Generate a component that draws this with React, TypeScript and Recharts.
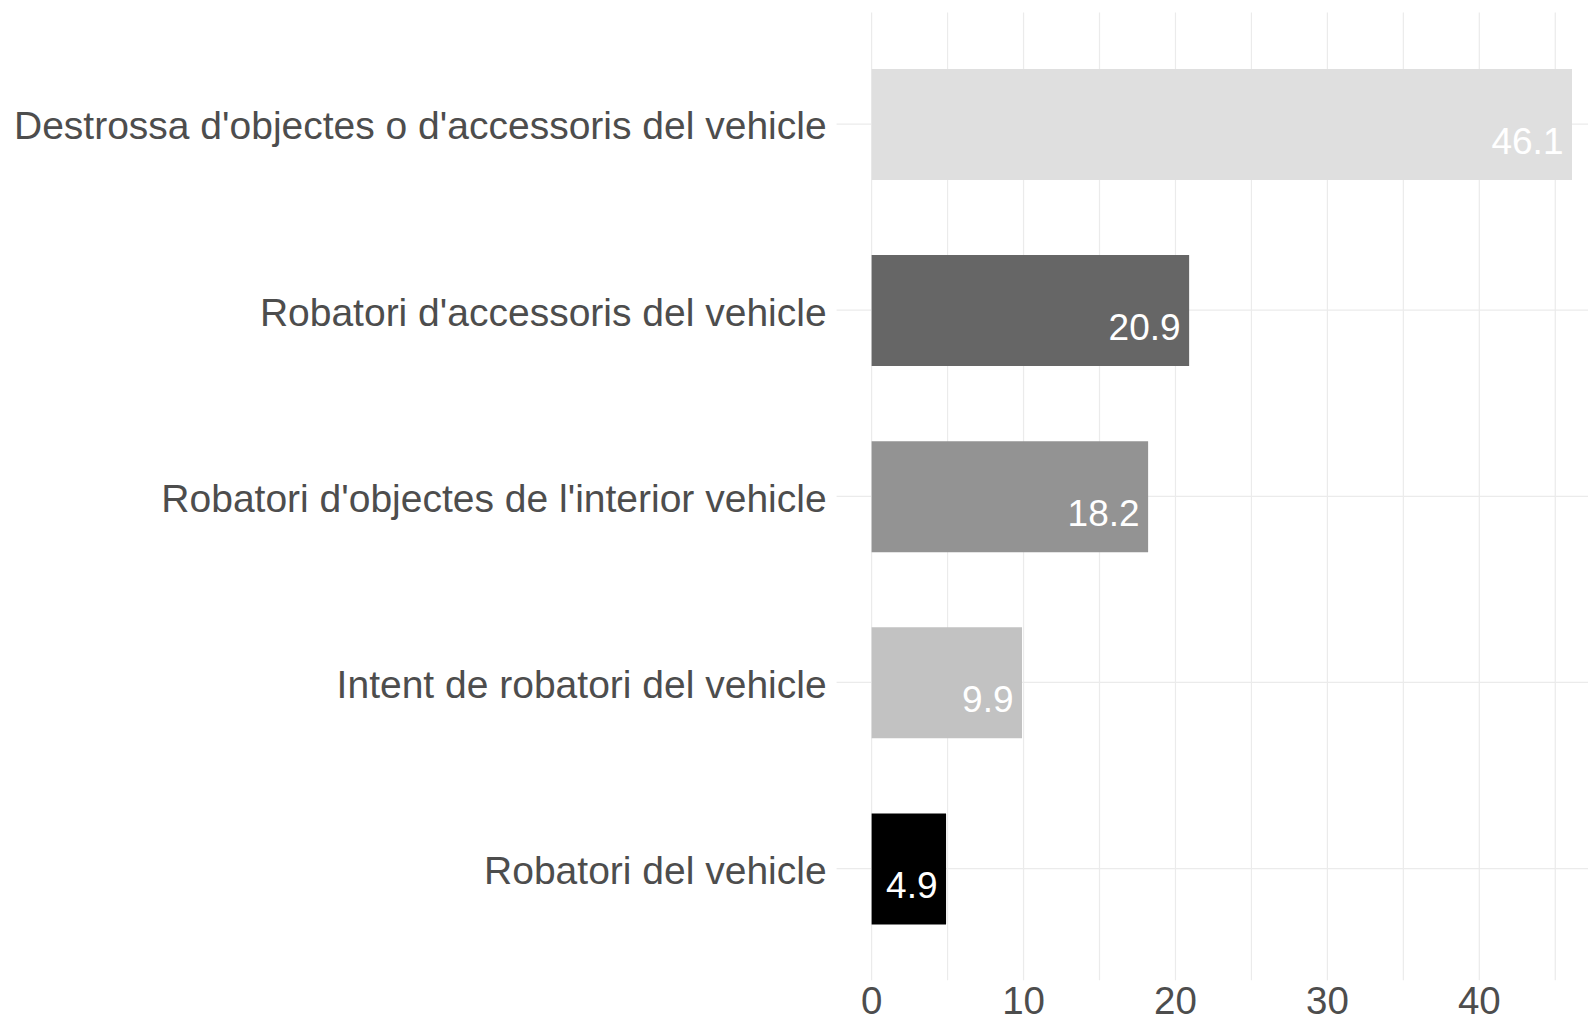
import React from "react";
import { BarChart, Bar, XAxis, YAxis, CartesianGrid, Cell, LabelList } from "recharts";

const categories = [
  "Destrossa d'objectes o d'accessoris del vehicle",
  "Robatori d'accessoris del vehicle",
  "Robatori d'objectes de l'interior vehicle",
  "Intent de robatori del vehicle",
  "Robatori del vehicle",
];
const values = [46.1, 20.9, 18.2, 9.9, 4.9];
const barColors = ["#DFDFDF", "#666666", "#939393", "#C2C2C2", "#000000"];
const xTicks = [0, 5, 10, 15, 20, 25, 30, 35, 40, 45];
const xTickLabels = ["0", "", "10", "", "20", "", "30", "", "40", ""];

const data = categories.map((c, i) => ({ name: c, value: values[i] }));
const maxVal = Math.max(...values);
const expand = 0.05 * maxVal;

const FONT = "'Liberation Sans', Arial, sans-serif";

const ValueLabel = (props: any) => {
  const { x, y, width, height, value } = props;
  return (
    <text
      x={x + width - 8.5}
      y={y + height / 2 + 29}
      textAnchor="end"
      fill="#FFFFFF"
      fontSize={37}
      fontFamily={FONT}
    >
      {value}
    </text>
  );
};

export default function App() {
  return (
    <div
      style={{
        position: "absolute",
        left: 0,
        top: 0,
        width: 1588,
        height: 1023,
        overflow: "hidden",
        background: "#FFFFFF",
      }}
    >
      <BarChart
        width={1607}
        height={1023}
        data={data}
        layout="vertical"
        margin={{ top: 12.4, right: 0, bottom: 0, left: 0 }}
      >
        <CartesianGrid stroke="#EBEBEB" strokeWidth={1.2} syncWithTicks />
        <XAxis
          type="number"
          dataKey="value"
          domain={[-expand, maxVal + expand]}
          ticks={xTicks}
          interval={0}
          tickFormatter={(v: number) => xTickLabels[xTicks.indexOf(v)] ?? ""}
          height={42.8}
          tickSize={0}
          tickMargin={6}
          axisLine={false}
          tickLine={false}
          tick={{ fill: "#4D4D4D", fontSize: 38.5, fontFamily: FONT }}
          allowDataOverflow
        />
        <YAxis
          type="category"
          dataKey="name"
          width={836.6}
          padding={{ top: 18.6, bottom: 18.6 }}
          tickSize={0}
          tickMargin={10}
          axisLine={false}
          tickLine={false}
          interval={0}
          tick={{ fill: "#4D4D4D", fontSize: 39, fontFamily: FONT, dy: 1.5 }}
        />
        <Bar dataKey="value" barSize={111} isAnimationActive={false}>
          {data.map((d, i) => (
            <Cell key={d.name} fill={barColors[i]} />
          ))}
          <LabelList dataKey="value" content={ValueLabel} />
        </Bar>
      </BarChart>
    </div>
  );
}
